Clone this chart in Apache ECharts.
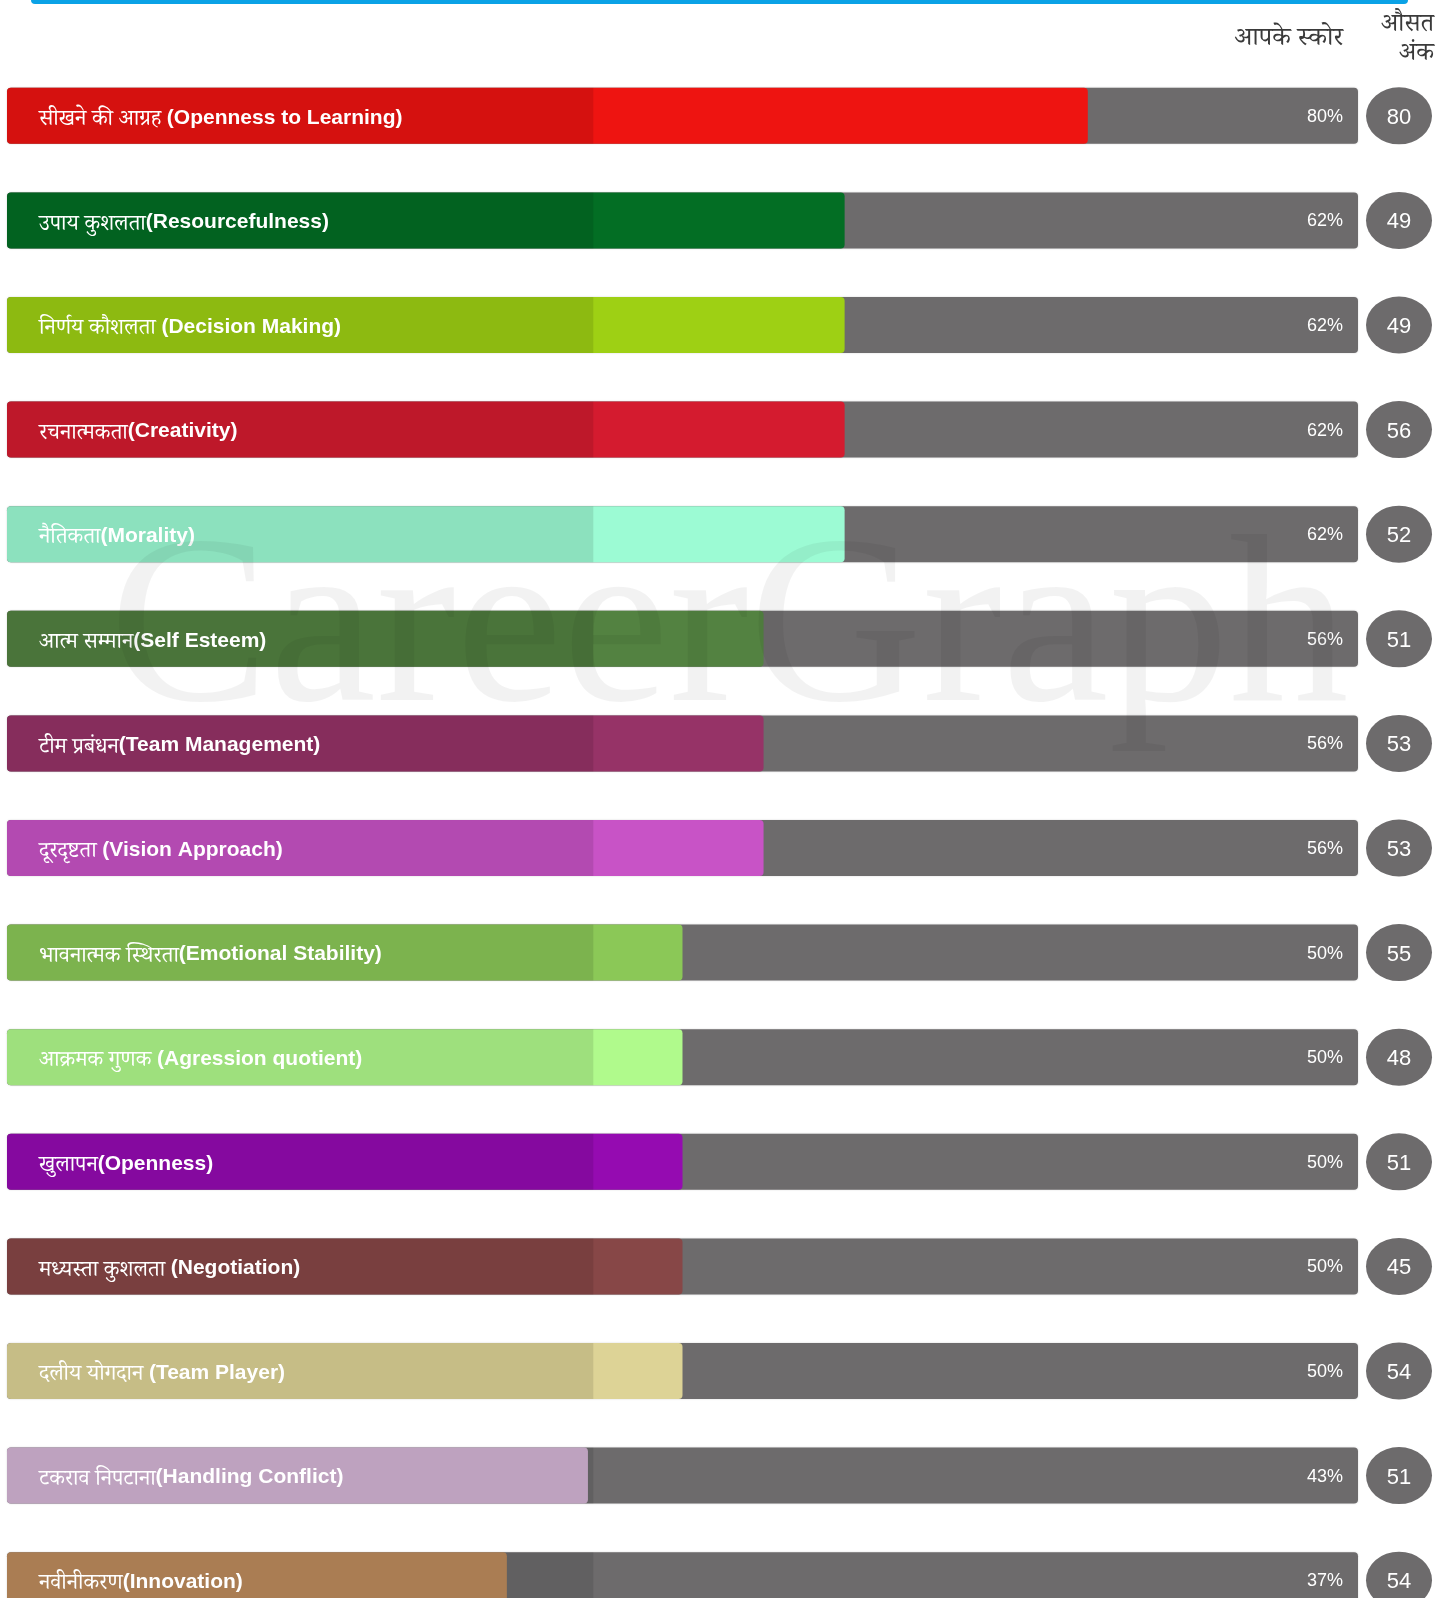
<!DOCTYPE html>
<html>
<head>
<meta charset="utf-8">
<script src="https://cdn.jsdelivr.net/npm/echarts@6/dist/echarts.min.js"></script>
<style>html,body{margin:0;padding:0;background:#fff}#c{width:1450px;height:1598px}</style>
</head>
<body>
<div id="c"></div>
<script>
const categories = [
  'सीखने की आग्रह (Openness to Learning)',
  'उपाय कुशलता(Resourcefulness)',
  'निर्णय कौशलता (Decision Making)',
  'रचनात्मकता(Creativity)',
  'नैतिकता(Morality)',
  'आत्म सम्मान(Self Esteem)',
  'टीम प्रबंधन(Team Management)',
  'दूरदृष्टता (Vision Approach)',
  'भावनात्मक स्थिरता(Emotional Stability)',
  'आक्रमक गुणक (Agression quotient)',
  'खुलापन(Openness)',
  'मध्यस्ता कुशलता (Negotiation)',
  'दलीय योगदान (Team Player)',
  'टकराव निपटाना(Handling Conflict)',
  'नवीनीकरण(Innovation)'
];
const scores = [80, 62, 62, 62, 62, 56, 56, 56, 50, 50, 50, 50, 50, 43, 37];
const averages = [80, 49, 49, 56, 52, 51, 53, 53, 55, 48, 51, 45, 54, 51, 54];
const barColors = [
  '#ee1411', '#036e24', '#9ed014', '#d41b2f', '#9cfbd4',
  '#538241', '#963367', '#c853c6', '#8bc857', '#b0fa8c',
  '#950bb1', '#874747', '#ddd396', '#d4b5d5', '#be8c5d'
];
const fullScale = 100;
const shadeEnd = 43.4;
const scoreHeader = 'आपके स्कोर';
const avgHeaderLines = ['औसत', 'अंक'];
const watermarkText = 'CareerGraph';

const HI_FONT = '"Noto Serif Devanagari","Noto Sans Devanagari","Lohit Devanagari","FreeSerif","Mangal",serif';
const EN_FONT = '"Liberation Sans",Arial,sans-serif';

const chart = echarts.init(document.getElementById('c'), null, {renderer: 'canvas'});

const gridTop = 63.5, gridHeight = 1569;

chart.setOption({
  backgroundColor: '#ffffff',
  animation: false,
  grid: [
    {left: 7, width: 1351, top: gridTop, height: gridHeight, outerBoundsMode: 'none', containLabel: false},
    {left: 1366, width: 66, top: gridTop, height: gridHeight, outerBoundsMode: 'none', containLabel: false}
  ],
  xAxis: [
    {type: 'value', gridIndex: 0, min: 0, max: fullScale, show: false},
    {type: 'category', gridIndex: 1, data: ['avg'], show: false}
  ],
  yAxis: [
    {type: 'category', gridIndex: 0, data: categories, inverse: true, show: false},
    {type: 'category', gridIndex: 1, data: categories, inverse: true, show: false}
  ],
  series: [
    {
      type: 'bar', xAxisIndex: 0, yAxisIndex: 0, silent: true,
      barWidth: 56, barGap: '-100%',
      data: categories.map(() => fullScale),
      itemStyle: {color: '#6d6b6c', borderRadius: 4, shadowColor: 'rgba(0,0,0,0.18)', shadowBlur: 2},
      label: {
        show: true, position: 'insideRight', distance: 15, offset: [0, 1],
        formatter: p => scores[p.dataIndex] + '%',
        color: '#ffffff', fontSize: 18, fontFamily: EN_FONT
      },
      z: 1
    },
    {
      type: 'bar', xAxisIndex: 0, yAxisIndex: 0, silent: true,
      barWidth: 56, barGap: '-100%',
      data: scores.map((v, i) => ({value: v, itemStyle: {color: barColors[i]}})),
      itemStyle: {borderRadius: 4},
      z: 2
    },
    {
      type: 'bar', xAxisIndex: 0, yAxisIndex: 0, silent: true,
      barWidth: 56, barGap: '-100%',
      data: categories.map(() => shadeEnd),
      itemStyle: {color: 'rgba(0,0,0,0.1)', borderRadius: [4, 0, 0, 4]},
      label: {
        show: true, position: 'insideLeft', distance: 32, offset: [0, 2],
        formatter: p => {
          const s = categories[p.dataIndex];
          const k = s.indexOf('(');
          return '{hi|' + s.slice(0, k) + '}{en|' + s.slice(k) + '}';
        },
        rich: {
          hi: {color: '#ffffff', fontSize: 22, fontFamily: HI_FONT, padding: [10, 0, 0, 0]},
          en: {color: '#ffffff', fontSize: 21, fontWeight: 'bold', fontFamily: EN_FONT}
        }
      },
      z: 3
    },
    {
      type: 'scatter', xAxisIndex: 1, yAxisIndex: 1, silent: true,
      symbol: 'path://M50,0A50,50,0,1,1,50,100A50,50,0,1,1,50,0Z',
      symbolSize: [66, 57],
      data: averages.map((v, i) => [0, i, v]),
      itemStyle: {color: '#6d6b6c', opacity: 1},
      label: {
        show: true, position: 'inside', offset: [0, 2],
        formatter: p => String(p.value[2]),
        color: '#ffffff', fontSize: 22, fontFamily: EN_FONT
      },
      z: 2
    }
  ],
  graphic: [
    {type: 'rect', shape: {x: 31, y: -4, width: 1377, height: 8, r: 4}, style: {fill: '#0aa2e6'}, z: 10},
    {type: 'text', x: 1343, y: 42, style: {text: scoreHeader, textAlign: 'right', textVerticalAlign: 'middle', fontSize: 26, fontFamily: HI_FONT, fill: '#3a3a3a'}, z: 10},
    {type: 'text', x: 1434, y: 29, style: {text: avgHeaderLines[0], textAlign: 'right', textVerticalAlign: 'middle', fontSize: 25, fontFamily: HI_FONT, fill: '#3a3a3a'}, z: 10},
    {type: 'text', x: 1434, y: 58, style: {text: avgHeaderLines[1], textAlign: 'right', textVerticalAlign: 'middle', fontSize: 25, fontFamily: HI_FONT, fill: '#3a3a3a'}, z: 10},
    {type: 'text', x: 729, y: 637, silent: true, style: {text: watermarkText, textAlign: 'center', textVerticalAlign: 'middle', fontSize: 240, fontFamily: '"Liberation Serif","Times New Roman",serif', fill: 'rgba(0,0,0,0.05)'}, z: 100}
  ]
});
</script>
</body>
</html>
